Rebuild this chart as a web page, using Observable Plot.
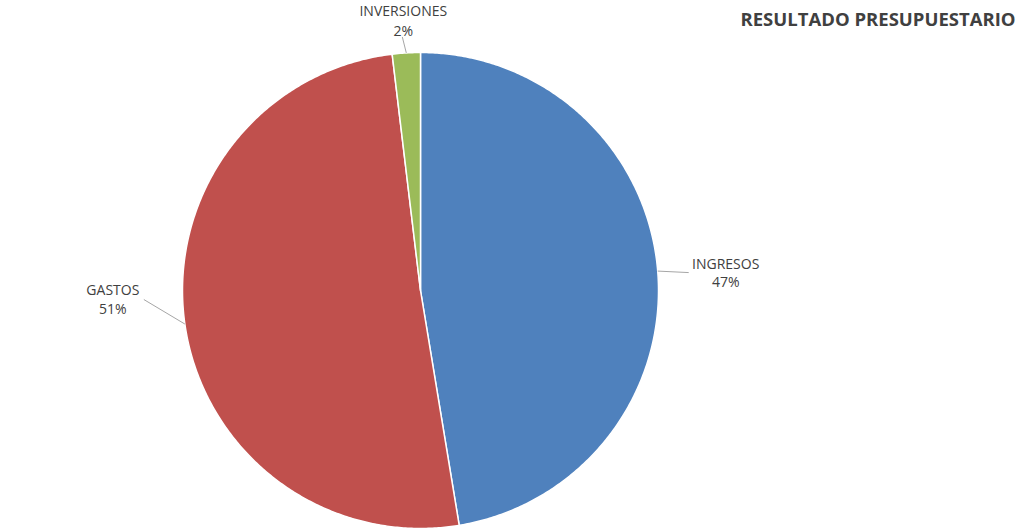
<!DOCTYPE html>
<html>
<head>
<meta charset="utf-8">
<script src="https://cdn.jsdelivr.net/npm/d3@7"></script>
<script src="https://cdn.jsdelivr.net/npm/@observablehq/plot@0.6"></script>
<style>
  html, body { margin: 0; padding: 0; background: #fff; }
  #chart svg { display: block; }
</style>
</head>
<body>
<div id="chart"></div>
<script>
// ---- data ----
const title = "RESULTADO PRESUPUESTARIO";
const categories = ["INGRESOS", "GASTOS", "INVERSIONES"];
const values = [47.4, 50.7, 1.9];
const colors = ["#4F81BD", "#C0504D", "#9BBB59"];

// ---- layout (pixels) ----
const W = 1024, H = 529;
const cx = 420, cy = 290, R = 238;
// label placement offsets in pixels relative to the slice's mid-angle edge point
const labelLayout = {
  "INGRESOS":    {tx: 68,  ty: -16, lx: 31,  ly: 1.5, lh: 1.35},
  "GASTOS":      {tx: -72, ty: -42.5, lx: -41, ly: -24.5, lh: 1.35},
  "INVERSIONES": {tx: -3,  ty: -51.5, lx: -4,  ly: -16, lh: 1.45}
};

// ---- build slices ----
const total = d3.sum(values);
let acc = 0;
const slices = categories.map((c, i) => {
  const a0 = acc / total * 2 * Math.PI;
  acc += values[i];
  const a1 = acc / total * 2 * Math.PI;
  return {category: c, value: values[i], a0, a1, mid: (a0 + a1) / 2,
          pct: Math.round(values[i] / total * 100) + "%"};
});
const pts = [];
for (const s of slices) {
  pts.push({category: s.category, x: 0, y: 0});
  const n = Math.max(2, Math.ceil((s.a1 - s.a0) / (Math.PI / 360)));
  for (let k = 0; k <= n; k++) {
    const a = s.a0 + (s.a1 - s.a0) * k / n;
    pts.push({category: s.category, x: Math.sin(a), y: Math.cos(a)});
  }
  pts.push({category: s.category, x: 0, y: 0});
}
const u = 1 / R; // data units per pixel
const labels = slices.map(s => {
  const L = labelLayout[s.category];
  const ex = Math.sin(s.mid), ey = Math.cos(s.mid);
  return {
    category: s.category,
    text: s.category + "\n" + s.pct,
    lh: L.lh,
    x1: ex, y1: ey,
    x2: ex + L.lx * u, y2: ey - L.ly * u,
    tx: ex + L.tx * u, ty: ey - L.ty * u
  };
});

const textMarks = labels.map(l =>
  Plot.text([l], {x: "tx", y: "ty", text: "text", textAnchor: "middle",
    lineAnchor: "top", lineHeight: l.lh, fontSize: 14, fill: "#404040"})
);

const chart = Plot.plot({
  width: W,
  height: H,
  margin: 0,
  style: {fontFamily: "'Open Sans', sans-serif", background: "#fff"},
  x: {domain: [-1, 1], range: [cx - R, cx + R], axis: null},
  y: {domain: [-1, 1], range: [cy + R, cy - R], axis: null},
  color: {domain: categories, range: colors},
  marks: [
    Plot.line(pts, {x: "x", y: "y", z: "category", fill: "category",
      stroke: "#fff", strokeWidth: 1.5, strokeLinejoin: "round", curve: "linear"}),
    Plot.link(labels, {x1: "x1", y1: "y1", x2: "x2", y2: "y2",
      stroke: "#a6a6a6", strokeWidth: 1}),
    ...textMarks,
    Plot.text([title], {frameAnchor: "top-right", dx: -9, dy: 12,
      textAnchor: "end", lineAnchor: "top", fontSize: 18.5, fontWeight: "bold",
      fill: "#404040"})
  ]
});
document.getElementById("chart").appendChild(chart);
</script>
</body>
</html>
